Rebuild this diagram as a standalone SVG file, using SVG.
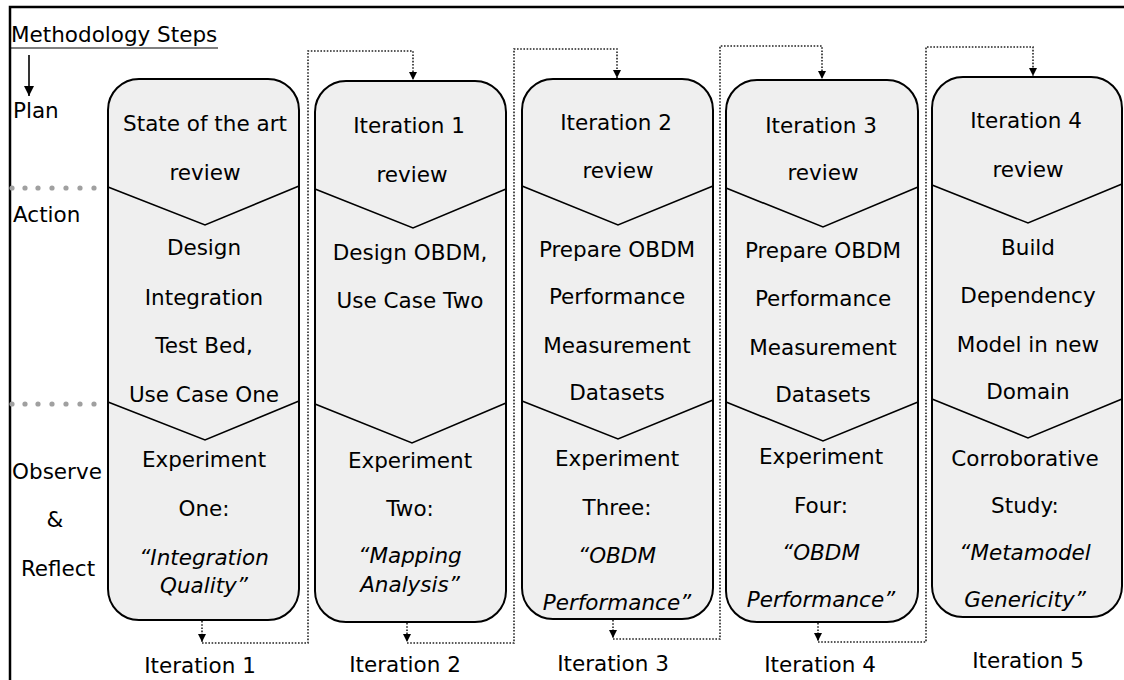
<svg xmlns="http://www.w3.org/2000/svg" width="1124" height="680" viewBox="0 0 1124 680">
<style>
text{font-family:"DejaVu Sans","Liberation Sans",sans-serif;font-size:21.5px;fill:#000}
.c{text-anchor:middle}
.i{font-style:italic}
.box{fill:#efefef;stroke:#000;stroke-width:2}
.chev{fill:none;stroke:#000;stroke-width:1.6}
.dot{fill:none;stroke:#222;stroke-width:1.6;stroke-dasharray:1.6 1.6}
.gd{fill:#a0a0a0}
</style>
<defs>
<marker id="ah" viewBox="0 0 8 8" refX="8" refY="4" markerWidth="8" markerHeight="8" markerUnits="userSpaceOnUse" orient="auto"><path d="M0,0 L8,4 L0,8 z" fill="#000"/></marker>
<marker id="ahs" viewBox="0 0 10 10" refX="10" refY="5" markerWidth="10" markerHeight="10" markerUnits="userSpaceOnUse" orient="auto"><path d="M0,0 L10,5 L0,10 z" fill="#000"/></marker>
</defs>
<rect width="1124" height="680" fill="#fff"/>
<path d="M10,680 V7 H1124" fill="none" stroke="#000" stroke-width="2.5"/>

<g id="legend">
<text x="11" y="42">Methodology Steps</text>
<line x1="11" y1="48" x2="218" y2="48" stroke="#000" stroke-width="1.2"/>
<line x1="29" y1="55" x2="29" y2="96" stroke="#000" stroke-width="1.6" marker-end="url(#ahs)"/>
<text x="13" y="118">Plan</text>
<text x="13" y="222">Action</text>
<text x="57" y="479" class="c">Observe</text>
<text x="55" y="527" class="c">&amp;</text>
<text x="58" y="576" class="c">Reflect</text>
<g class="gd">
<circle cx="12" cy="188" r="2.6"/><circle cx="25" cy="188" r="2.6"/><circle cx="38" cy="188" r="2.6"/><circle cx="52" cy="188" r="2.6"/><circle cx="66" cy="188" r="2.6"/><circle cx="80" cy="188" r="2.6"/><circle cx="94" cy="188" r="2.6"/>
<circle cx="12" cy="404" r="2.6"/><circle cx="25" cy="404" r="2.6"/><circle cx="38" cy="404" r="2.6"/><circle cx="52" cy="404" r="2.6"/><circle cx="66" cy="404" r="2.6"/><circle cx="80" cy="404" r="2.6"/><circle cx="94" cy="404" r="2.6"/>
</g>
</g>

<g id="node-1">
<rect class="box" x="108" y="79" width="191" height="541" rx="31"/>
<polyline class="chev" points="108,187 205,225 299,186"/>
<polyline class="chev" points="108,402 205,440 299,401"/>
<text x="205" y="131" class="c">State of the art</text>
<text x="205" y="180" class="c">review</text>
<text x="204" y="255" class="c">Design</text>
<text x="204" y="305" class="c">Integration</text>
<text x="204" y="353" class="c">Test Bed,</text>
<text x="204" y="402" class="c">Use Case One</text>
<text x="204" y="467" class="c">Experiment</text>
<text x="204" y="516" class="c">One:</text>
<text x="204" y="565" class="c i">“Integration</text>
<text x="204" y="593" class="c i">Quality”</text>
<text x="200" y="673" class="c">Iteration 1</text>
</g>

<g id="node-2">
<rect class="box" x="315" y="81" width="191" height="541" rx="31"/>
<polyline class="chev" points="315,189 413,228 506,189"/>
<polyline class="chev" points="315,404 412,443 506,403"/>
<text x="409" y="133" class="c">Iteration 1</text>
<text x="412" y="182" class="c">review</text>
<text x="410" y="260" class="c">Design OBDM,</text>
<text x="410" y="308" class="c">Use Case Two</text>
<text x="410" y="468" class="c">Experiment</text>
<text x="410" y="516" class="c">Two:</text>
<text x="410" y="563" class="c i">“Mapping</text>
<text x="410" y="592" class="c i">Analysis”</text>
<text x="405" y="672" class="c">Iteration 2</text>
</g>

<g id="node-3">
<rect class="box" x="522" y="79" width="191" height="540" rx="31"/>
<polyline class="chev" points="522,186 618,225 713,186"/>
<polyline class="chev" points="522,401 618,439 713,400"/>
<text x="616" y="130" class="c">Iteration 2</text>
<text x="618" y="178" class="c">review</text>
<text x="617" y="257" class="c">Prepare OBDM</text>
<text x="617" y="304" class="c">Performance</text>
<text x="617" y="353" class="c">Measurement</text>
<text x="617" y="400" class="c">Datasets</text>
<text x="617" y="466" class="c">Experiment</text>
<text x="617" y="515" class="c">Three:</text>
<text x="617" y="563" class="c i">“OBDM</text>
<text x="617" y="610" class="c i">Performance”</text>
<text x="613" y="671" class="c">Iteration 3</text>
</g>

<g id="node-4">
<rect class="box" x="726" y="80" width="192" height="542" rx="31"/>
<polyline class="chev" points="726,188 823,227 918,187"/>
<polyline class="chev" points="726,402 823,441 918,402"/>
<text x="821" y="133" class="c">Iteration 3</text>
<text x="823" y="180" class="c">review</text>
<text x="823" y="258" class="c">Prepare OBDM</text>
<text x="823" y="306" class="c">Performance</text>
<text x="823" y="355" class="c">Measurement</text>
<text x="823" y="402" class="c">Datasets</text>
<text x="821" y="464" class="c">Experiment</text>
<text x="821" y="513" class="c">Four:</text>
<text x="821" y="560" class="c i">“OBDM</text>
<text x="821" y="607" class="c i">Performance”</text>
<text x="820" y="672" class="c">Iteration 4</text>
</g>

<g id="node-5">
<rect class="box" x="932" y="77" width="190" height="540" rx="31"/>
<polyline class="chev" points="932,185 1028,223 1122,184"/>
<polyline class="chev" points="932,399 1028,438 1122,399"/>
<text x="1026" y="128" class="c">Iteration 4</text>
<text x="1028" y="177" class="c">review</text>
<text x="1028" y="255" class="c">Build</text>
<text x="1028" y="303" class="c">Dependency</text>
<text x="1028" y="352" class="c">Model in new</text>
<text x="1028" y="399" class="c">Domain</text>
<text x="1025" y="466" class="c">Corroborative</text>
<text x="1025" y="513" class="c">Study:</text>
<text x="1025" y="560" class="c i">“Metamodel</text>
<text x="1025" y="607" class="c i">Genericity”</text>
<text x="1028" y="668" class="c">Iteration 5</text>
</g>

<g id="connectors">
<path class="dot" d="M202,621 V642" marker-end="url(#ah)"/>
<path class="dot" d="M202,643 H308 V51 H413 V80" marker-end="url(#ah)"/>
<path class="dot" d="M407,623 V642" marker-end="url(#ah)"/>
<path class="dot" d="M407,643 H514 V49 H617 V78" marker-end="url(#ah)"/>
<path class="dot" d="M613,620 V638" marker-end="url(#ah)"/>
<path class="dot" d="M613,639 H720 V46 H822 V79" marker-end="url(#ah)"/>
<path class="dot" d="M818,623 V641" marker-end="url(#ah)"/>
<path class="dot" d="M818,642 H926 V47 H1033 V76" marker-end="url(#ah)"/>
</g>
</svg>
